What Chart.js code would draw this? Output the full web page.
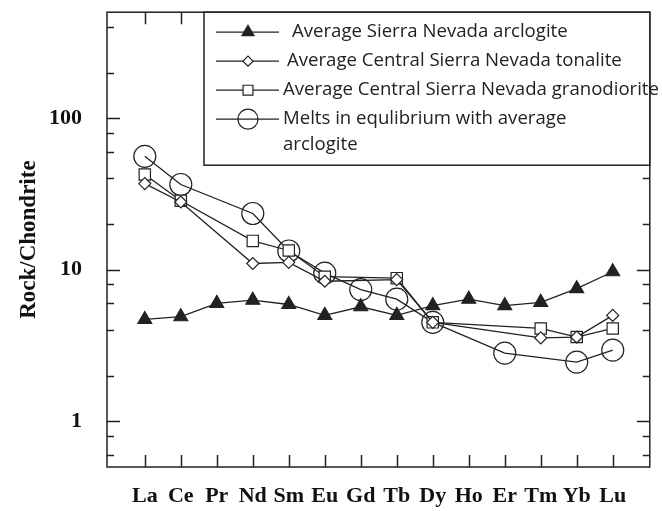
<!DOCTYPE html>
<html>
<head>
<meta charset="utf-8">
<script src="https://cdn.jsdelivr.net/npm/chart.js@4.4.0/dist/chart.umd.min.js"></script>
<style>
  html, body { margin: 0; padding: 0; background: #fff; }
  #wrap { width: 662px; height: 511px; position: relative; }
</style>
</head>
<body>
<div id="wrap"><canvas id="myChart"></canvas></div>
<script>
// REE names along the x axis
var elements = ['La', 'Ce', 'Pr', 'Nd', 'Sm', 'Eu', 'Gd', 'Tb', 'Dy', 'Ho', 'Er', 'Tm', 'Yb', 'Lu'];
// chondrite normalised values (null = not plotted)
var arclogite    = [4.7, 4.9, 6.0, 6.3, 5.9, 5.0, 5.7, 5.0, 5.8, 6.4, 5.8, 6.1, 7.5, 9.7];
var tonalite     = [37, 28, null, 11.0, 11.2, 8.4, null, 8.6, 4.5, null, null, 3.55, 3.6, 5.0];
var granodiorite = [42.5, 28.5, null, 15.5, 13.4, 9.0, null, 8.8, 4.5, null, null, 4.1, 3.6, 4.1];
var melts        = [56, 36.5, null, 23.5, 13.3, 9.5, 7.4, 6.4, 4.5, null, 2.82, null, 2.46, 2.95];
var yLabels = [1, 10, 100];
var seriesNames = [
    'Average Sierra Nevada arclogite',
    'Average Central Sierra Nevada tonalite',
    'Average Central Sierra Nevada granodiorite',
    ['Melts in equlibrium with average', 'arclogite']
];

function pts(arr) {
    return arr.map(function(v, i) { return { x: i, y: v }; });
}

// inward ticks on all four sides + legend box
var frame = {
    id: 'frame',
    afterDraw: function(chart) {
        var ctx = chart.ctx, a = chart.chartArea;
        var xs = chart.scales.x, ys = chart.scales.y;
        ctx.save();
        ctx.strokeStyle = '#222';
        ctx.lineWidth = 1.5;
        ctx.strokeRect(a.left, a.top, a.right - a.left, a.bottom - a.top);
        ctx.beginPath();
        for (var i = 0; i < elements.length; i++) {
            var px = Math.round(xs.getPixelForValue(i)) + 0.5;
            ctx.moveTo(px, a.bottom); ctx.lineTo(px, a.bottom - 12);
            ctx.moveTo(px, a.top); ctx.lineTo(px, a.top + 12);
        }
        ys.ticks.forEach(function(t) {
            var py = Math.round(ys.getPixelForValue(t.value)) + 0.5;
            var len = yLabels.indexOf(t.value) >= 0 ? 13 : 7;
            ctx.moveTo(a.left, py); ctx.lineTo(a.left + len, py);
            ctx.moveTo(a.right, py); ctx.lineTo(a.right - len, py);
        });
        ctx.stroke();

        // legend
        var bx = 204, by = a.top, bw = a.right - 204, bh = 153;
        ctx.fillStyle = '#fff';
        ctx.fillRect(bx, by, bw, bh);
        ctx.strokeRect(bx, by, bw, bh);
        var rows = [20, 49, 78, 107];
        var textX = [292, 287, 283, 283];
        ctx.font = '18.6px "Open Sans"';
        ctx.textBaseline = 'middle';
        chart.data.datasets.forEach(function(ds, k) {
            var y = by + rows[k];
            ctx.strokeStyle = '#222';
            ctx.lineWidth = 1.3;
            ctx.beginPath();
            ctx.moveTo(216, y); ctx.lineTo(279, y);
            ctx.stroke();
            ctx.fillStyle = ds.pointBackgroundColor;
            ctx.strokeStyle = '#222';
            ctx.lineWidth = 1.2;
            Chart.helpers.drawPoint(ctx, {
                pointStyle: ds.pointStyle,
                radius: ds.legendRadius,
                borderWidth: 1.2,
                rotation: 0
            }, 248, y);
            ctx.fillStyle = '#222';
            var name = seriesNames[k];
            if (Array.isArray(name)) {
                ctx.fillText(name[0], textX[k], y);
                ctx.fillText(name[1], textX[k], y + 26);
            } else {
                ctx.fillText(name, textX[k], y);
            }
        });
        ctx.restore();
    }
};

var common = {
    borderColor: '#222',
    borderWidth: 1.3,
    pointBorderColor: '#222',
    pointBorderWidth: 1.2,
    spanGaps: true,
    tension: 0
};

var chr = document.getElementById('myChart').getContext('2d');
var myChart = new Chart(chr, {
    type: 'line',
    data: {
        datasets: [
            Object.assign({ label: 'arclogite', data: pts(arclogite), pointStyle: 'triangle',
                pointRadius: 8, legendRadius: 7, pointBackgroundColor: '#222' }, common),
            Object.assign({ label: 'tonalite', data: pts(tonalite), pointStyle: 'rectRot',
                pointRadius: 6, legendRadius: 5, pointBackgroundColor: '#fff' }, common),
            Object.assign({ label: 'granodiorite', data: pts(granodiorite), pointStyle: 'rect',
                pointRadius: 8, legendRadius: 7, pointBackgroundColor: '#fff' }, common),
            Object.assign({ label: 'melts', data: pts(melts), pointStyle: 'circle',
                pointRadius: 11, legendRadius: 10, pointBackgroundColor: 'rgba(0,0,0,0)' }, common)
        ]
    },
    options: {
        responsive: true,
        maintainAspectRatio: false,
        animation: false,
        layout: { padding: { top: 12, right: 2, left: 0, bottom: 0 } },
        plugins: { legend: { display: false }, tooltip: { enabled: false } },
        scales: {
            x: {
                type: 'linear',
                min: -1.05,
                max: 14.03,
                grid: { display: false, drawTicks: false },
                border: { display: false },
                afterBuildTicks: function(s) {
                    s.ticks = elements.map(function(e, i) { return { value: i }; });
                },
                afterFit: function(s) { s.height = 44; s.paddingLeft = 0; s.paddingRight = 0; },
                ticks: {
                    autoSkip: false,
                    maxRotation: 0,
                    padding: 16,
                    color: '#111',
                    font: { family: 'Liberation Serif', size: 22, weight: 'bold' },
                    callback: function(v) { return elements[v]; }
                }
            },
            y: {
                type: 'logarithmic',
                min: 0.5,
                max: 500,
                grid: { display: false, drawTicks: false },
                border: { display: false },
                afterFit: function(s) { s.width = 107; s.paddingTop = 0; s.paddingBottom = 0; },
                title: {
                    display: true,
                    text: 'Rock/Chondrite',
                    color: '#111',
                    padding: { top: 15, bottom: 0 },
                    font: { family: 'Liberation Serif', size: 23, weight: 'bold' }
                },
                ticks: {
                    padding: 25,
                    color: '#111',
                    font: { family: 'Liberation Serif', size: 22, weight: 'bold' },
                    callback: function(v) { return yLabels.indexOf(v) >= 0 ? String(v) : ''; }
                }
            }
        }
    },
    plugins: [frame]
});
</script>
</body>
</html>
